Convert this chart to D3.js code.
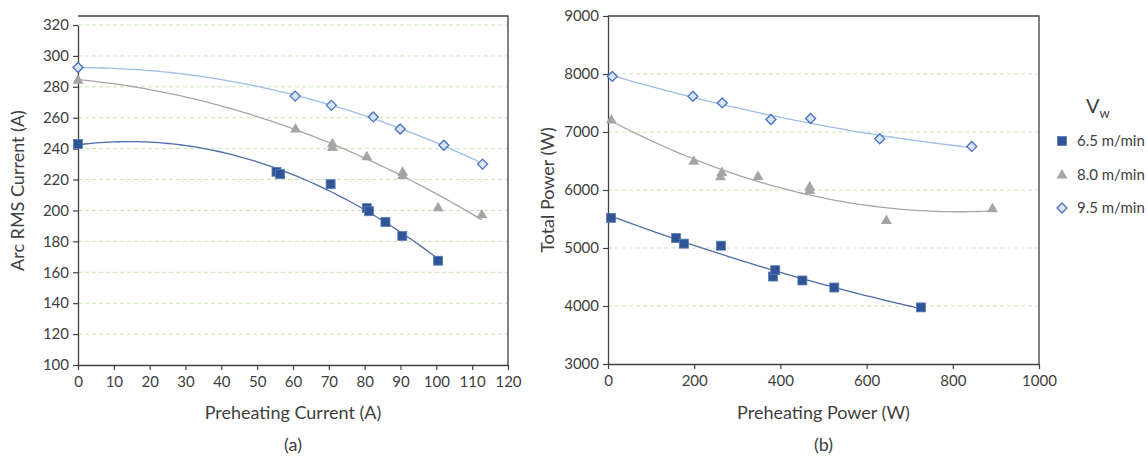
<!DOCTYPE html>
<html>
<head>
<meta charset="utf-8">
<script src="https://cdn.jsdelivr.net/npm/d3@7"></script>
<style>
  body { margin: 0; background: #fff; }
  svg text { font-family: Lato, "Open Sans", sans-serif; fill: #404040; }
</style>
</head>
<body>
<svg width="1148" height="457"></svg>
<script>
// legend / series names
const seriesNames = ["6.5 m/min", "8.0 m/min", "9.5 m/min"];

// (a) preheating current vs arc RMS current
const aX65 = [0, 55.4, 56.4, 70.5, 80.6, 81.2, 85.8, 90.5, 100.5];
const aY65 = [243, 225, 223.5, 217, 201.5, 199.5, 192.5, 183.5, 167.5];
const aX80 = [0, 60.7, 71, 71, 80.6, 90.6, 90.6, 100.5, 112.7];
const aY80 = [284.5, 253, 243.5, 241, 235, 225, 223, 202, 197.5];
const aX95 = [0, 60.6, 70.7, 82.4, 89.9, 102.1, 112.9];
const aY95 = [292.5, 274, 268, 260.5, 252.7, 242.2, 230];

// (b) preheating power vs total power
const bX65 = [7, 158, 176, 262, 383, 388, 451, 525, 726];
const bY65 = [5520, 5172, 5075, 5040, 4508, 4618, 4440, 4319, 3976];
const bX80 = [7.6, 199, 261, 264, 348, 468, 468, 646, 892];
const bY80 = [7215, 6506, 6237, 6311, 6242, 6060, 6000, 5481, 5687];
const bX95 = [10, 197, 265, 378, 470, 630.5, 844];
const bY95 = [7958, 7615, 7501, 7215, 7232, 6883, 6751];

const aTicksX = d3.range(0, 121, 10);
const aTicksY = d3.range(100, 321, 20);
const bTicksX = d3.range(0, 1001, 200);
const bTicksY = d3.range(3000, 9001, 1000);

const colors = {
  sqFill: "#2f5597", sqStroke: "#5b7bb8", sqLine: "#4d6ca8",
  triFill: "#a5a5a5", triLine: "#a6a6a6",
  diaFill: "#dae3f3", diaStroke: "#4472c4", diaLine: "#9dbde8"
};

const svg = d3.select("svg");

// quadratic least squares trendline (like Excel's polynomial order 2)
function polyFit(xs, ys) {
  let n = xs.length, s = [0,0,0,0,0], t = [0,0,0];
  for (let i = 0; i < n; i++) {
    let x = xs[i], y = ys[i];
    for (let k = 0; k < 5; k++) s[k] += Math.pow(x, k);
    for (let k = 0; k < 3; k++) t[k] += y * Math.pow(x, k);
  }
  let M = [[s[0], s[1], s[2], t[0]], [s[1], s[2], s[3], t[1]], [s[2], s[3], s[4], t[2]]];
  for (let c = 0; c < 3; c++) {
    for (let r = c + 1; r < 3; r++) {
      let f = M[r][c] / M[c][c];
      for (let k = c; k < 4; k++) M[r][k] -= f * M[c][k];
    }
  }
  let coef = [0,0,0];
  for (let r = 2; r >= 0; r--) {
    let v = M[r][3];
    for (let k = r + 1; k < 3; k++) v -= M[r][k] * coef[k];
    coef[r] = v / M[r][r];
  }
  return x => coef[0] + coef[1] * x + coef[2] * x * x;
}

function marker(g, type, x, y) {
  if (type === 0) {
    g.append("rect").attr("x", x - 4.5).attr("y", y - 4.5).attr("width", 9).attr("height", 9)
      .attr("fill", colors.sqFill).attr("stroke", colors.sqStroke).attr("stroke-width", 0.8);
  } else if (type === 1) {
    g.append("path").attr("d", `M${x},${y - 5.5}L${x + 5.5},${y + 4}L${x - 5.5},${y + 4}Z`)
      .attr("fill", colors.triFill);
  } else {
    g.append("path").attr("d", `M${x},${y - 5}L${x + 5},${y}L${x},${y + 5}L${x - 5},${y}Z`)
      .attr("fill", colors.diaFill).attr("stroke", colors.diaStroke).attr("stroke-width", 1.3);
  }
}

function drawPanel(opt) {
  const { xScale, yScale, xTicks, yTicks, series, xTitle, yTitle, tag, yTitleX, gridVals } = opt;
  const g = svg.append("g");
  const [x0, x1] = xScale.range();
  const [y0, y1] = yScale.range();

  // gridlines
  g.selectAll(".grid").data(gridVals).enter().append("line")
    .attr("x1", x0).attr("x2", x1)
    .attr("y1", d => yScale(d)).attr("y2", d => yScale(d))
    .attr("stroke", "#c9e3b8").attr("stroke-width", 1).attr("stroke-dasharray", "4,3");

  // frame top & right
  g.append("path").attr("d", `M${x0},16H${x1}V${y0}`).attr("fill", "none")
    .attr("stroke", "#404040").attr("stroke-width", 1.3);

  const xAxis = g.append("g").attr("transform", `translate(0,${y0})`)
    .call(d3.axisBottom(xScale).tickValues(xTicks).tickSize(5).tickSizeOuter(0).tickFormat(d3.format("d")));
  const yAxis = g.append("g").attr("transform", `translate(${x0},0)`)
    .call(d3.axisLeft(yScale).tickValues(yTicks).tickSize(5).tickSizeOuter(0).tickFormat(d3.format("d")));
  [xAxis, yAxis].forEach(ax => {
    ax.select(".domain").attr("stroke", "#404040").attr("stroke-width", 1.3);
    ax.selectAll(".tick line").attr("stroke", "#404040").attr("stroke-width", 1.2);
    ax.selectAll(".tick text").attr("font-size", 15).attr("fill", "#404040")
      .style("font-family", "Lato, sans-serif");
  });
  xAxis.selectAll(".tick text").attr("dy", "0.9em").attr("y", 8);
  yAxis.selectAll(".tick text").attr("x", -9);

  // trendlines then markers
  series.forEach((s, i) => {
    const f = polyFit(s.x, s.y);
    const ext = d3.extent(s.x);
    const pts = d3.range(0, 81).map(k => ext[0] + (ext[1] - ext[0]) * k / 80);
    g.append("path").datum(pts)
      .attr("d", d3.line().x(d => xScale(d)).y(d => yScale(f(d))))
      .attr("fill", "none")
      .attr("stroke", [colors.sqLine, colors.triLine, colors.diaLine][i])
      .attr("stroke-width", 1.3);
  });
  series.forEach((s, i) => {
    s.x.forEach((xv, j) => marker(g, i, xScale(xv), yScale(s.y[j])));
  });

  const cx = (x0 + x1) / 2;
  g.append("text").attr("x", cx).attr("y", 419).attr("text-anchor", "middle")
    .attr("font-size", 18).text(xTitle);
  g.append("text").attr("x", cx).attr("y", 451).attr("text-anchor", "middle")
    .attr("font-size", 18).text(tag);
  g.append("text").attr("transform", `translate(${yTitleX},${(y0 + 16) / 2})rotate(-90)`)
    .attr("text-anchor", "middle").attr("font-size", 18).text(yTitle);
}

drawPanel({
  xScale: d3.scaleLinear().domain([0, 120]).range([78, 508]),
  yScale: d3.scaleLinear().domain([100, 320]).range([365, 25]),
  xTicks: aTicksX, yTicks: aTicksY,
  gridVals: aTicksY.slice(1),
  series: [{ x: aX65, y: aY65 }, { x: aX80, y: aY80 }, { x: aX95, y: aY95 }],
  xTitle: "Preheating Current (A)", yTitle: "Arc RMS Current (A)", tag: "(a)", yTitleX: 24
});

drawPanel({
  xScale: d3.scaleLinear().domain([0, 1000]).range([608, 1039]),
  yScale: d3.scaleLinear().domain([3000, 9000]).range([364, 16]),
  xTicks: bTicksX, yTicks: bTicksY,
  gridVals: bTicksY.slice(1, -1),
  series: [{ x: bX65, y: bY65 }, { x: bX80, y: bY80 }, { x: bX95, y: bY95 }],
  xTitle: "Preheating Power (W)", yTitle: "Total Power (W)", tag: "(b)", yTitleX: 554
});

// legend
const lg = svg.append("g");
const vt = lg.append("text").attr("x", 1086).attr("y", 113).attr("font-size", 20);
vt.append("tspan").text("V");
vt.append("tspan").attr("dy", 5).attr("font-size", 13).text("w");
seriesNames.forEach((name, i) => {
  const yy = 141 + i * 33.5;
  marker(lg, i, 1062, yy);
  lg.append("text").attr("x", 1077).attr("y", yy + 5).attr("font-size", 15).text(name);
});
</script>
</body>
</html>
